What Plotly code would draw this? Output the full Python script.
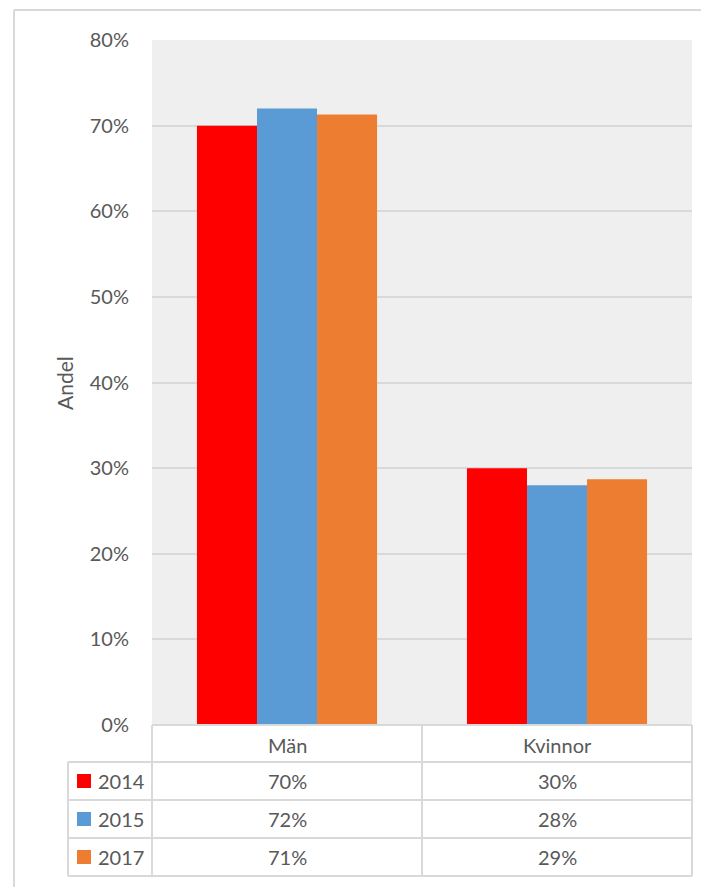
import plotly.graph_objects as go

categories = ["Män", "Kvinnor"]
years = ["2014", "2015", "2017"]
share_2014 = [0.70, 0.30]
share_2015 = [0.72, 0.28]
share_2017 = [0.713, 0.287]
table_labels = [["70%", "30%"], ["72%", "28%"], ["71%", "29%"]]
colors = ["#FF0000", "#5B9BD5", "#ED7D31"]

# the page body has an 8px margin, so the figure is shrunk and shifted by that
OFF = 8
W, H = 709 - OFF, 887 - OFF
FONT = "Lato"
TXT = "#595959"
LINE = "#D9D9D9"


def px(x):
    return (x - OFF) / W


def py(y):
    return 1 - (y - OFF) / H


def hline(x0, x1, y, width=2):
    return dict(type="line", xref="paper", yref="paper", x0=px(x0), x1=px(x1),
                y0=py(y), y1=py(y), line=dict(color=LINE, width=width))


def vline(x, y0, y1, width=2):
    return dict(type="line", xref="paper", yref="paper", x0=px(x), x1=px(x),
                y0=py(y0), y1=py(y1), line=dict(color=LINE, width=width))


def label(text, x, y, **kw):
    d = dict(text=text, x=px(x), y=py(y), xref="paper", yref="paper", showarrow=False,
             xanchor="center", yanchor="middle",
             font=dict(family=FONT, size=20, color=TXT))
    d.update(kw)
    return d


fig = go.Figure()
for name, vals, col in zip(years, [share_2014, share_2015, share_2017], colors):
    fig.add_trace(go.Bar(x=categories, y=vals, name=name, marker_color=col,
                         marker_line_width=0, showlegend=False))

# table geometry (pixels in the window)
plot_l, plot_r, plot_t, plot_b = 152, 692, 40, 725
col_mid = 422
label_l = 68
rows = [725, 762, 800, 838, 876]

# outer chart border
shapes = [vline(14, 10, 887 + 10), hline(14, 720, 10)]
for i, r in enumerate(rows):
    shapes.append(hline(plot_l if i == 0 else label_l, plot_r, r))
shapes.append(vline(label_l, rows[1], rows[-1]))
for xv in [plot_l, col_mid, plot_r]:
    shapes.append(vline(xv, rows[0], rows[-1]))

annotations = [label("Andel", 64, 383, textangle=-90,
                     font=dict(family=FONT, size=21, color=TXT))]
col_centers = [(plot_l + col_mid) / 2, (col_mid + plot_r) / 2]
for cat, cx in zip(categories, col_centers):
    annotations.append(label(cat, cx, (rows[0] + rows[1]) / 2 + 1))
for i, (yr, col) in enumerate(zip(years, colors)):
    cy = (rows[i + 1] + rows[i + 2]) / 2
    shapes.append(dict(type="rect", xref="paper", yref="paper", x0=px(77), x1=px(91),
                       y0=py(cy - 7), y1=py(cy + 7), fillcolor=col, line_width=0))
    annotations.append(label(yr, 96, cy, xanchor="left"))
    for j, cx in enumerate(col_centers):
        annotations.append(label(table_labels[i][j], cx, cy))

fig.update_layout(
    width=W, height=H,
    margin=dict(l=0, r=0, t=0, b=0, autoexpand=False),
    paper_bgcolor="white",
    plot_bgcolor="#EFEFEF",
    barmode="group",
    bargap=0.333,
    bargroupgap=0,
    font=dict(family=FONT, size=20, color=TXT),
    xaxis=dict(domain=[px(plot_l), px(plot_r)], showticklabels=False, showgrid=False,
               zeroline=False, fixedrange=True, automargin=False),
    yaxis=dict(domain=[py(plot_b), py(plot_t)], range=[0, 0.8], dtick=0.1,
               tickformat=".0%", gridcolor=LINE, gridwidth=2, zeroline=False,
               ticklabelstandoff=22, fixedrange=True, automargin=False),
    shapes=shapes,
    annotations=annotations,
)

fig.write_html("out.html")
